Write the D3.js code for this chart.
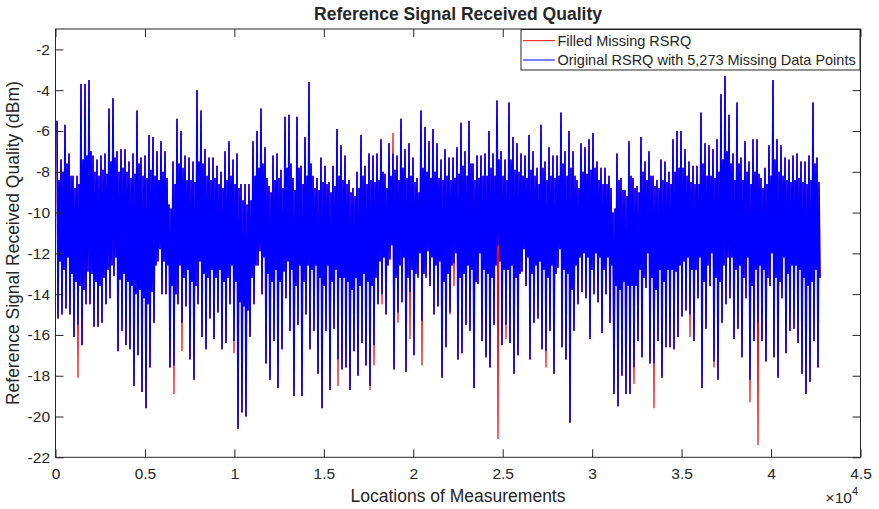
<!DOCTYPE html>
<html><head><meta charset="utf-8">
<script src="https://cdn.jsdelivr.net/npm/d3@7"></script>
<style>
body{margin:0;background:#fff}
svg{display:block}
text{font-family:"Liberation Sans",Arial,Helvetica,sans-serif;fill:#262626}
</style>
</head><body>
<svg id="c" width="879" height="509"></svg>
<script>
// ---- data ----
const xTicks = [0,5000,10000,15000,20000,25000,30000,35000,40000,45000];
const xTickLabels = ["0","0.5","1","1.5","2","2.5","3","3.5","4","4.5"];
const yTicks = [-22,-20,-18,-16,-14,-12,-10,-8,-6,-4,-2];
const titleText = "Reference Signal Received Quality";
const xLabel = "Locations of Measurements";
const yLabel = "Reference Signal Received Quality (dBm)";
const legendLabels = ["Filled Missing RSRQ","Original RSRQ with 5,273 Missing Data Points"];

// down-sampled measurement trace: each segment = local peak, local trough,
// then the upper and lower edge of the dense core of the trace
const sampleStart = 84, sampleStep = 55.9;   // location of first sample, spacing between samples
// filled RSRQ (dBm): local peaks per segment
const rsrqPeak = [
-5.5,-7.4,-5.7,-7.1,-8.2,-8.2,-3.7,-3.7,-3.5,-7.2,-7.4,-7.2,-7.1,-4.9,-4.4,-7.0,-6.9,-6.9,-7.5,-7.1,-5.0,-7.3,-7.2,-6.2,
-6.3,-7.0,-6.5,-7.0,-9.6,-7.5,-5.4,-6.0,-7.2,-7.3,-7.5,-4.0,-5.0,-6.9,-7.3,-7.3,-7.7,-8.0,-7.0,-6.5,-7.4,-7.1,-8.6,-8.6,
-8.6,-6.5,-6.0,-4.9,-6.8,-8.7,-7.2,-7.1,-7.9,-5.3,-5.2,-8.3,-5.3,-7.7,-6.3,-3.6,-8.2,-8.3,-7.3,-7.7,-8.5,-7.7,-5.9,-6.7,
-7.2,-8.4,-8.8,-8.0,-6.2,-7.7,-7.1,-7.2,-7.1,-6.4,-8.1,-6.6,-6.1,-7.2,-5.4,-6.9,-6.6,-7.3,-8.3,-5.0,-5.8,-6.5,-5.9,-6.6,
-7.4,-6.9,-7.3,-7.3,-6.8,-5.6,-7.0,-5.5,-7.6,-7.2,-7.2,-7.1,-6.0,-7.1,-4.5,-7.0,-7.4,-4.6,-6.3,-6.6,-7.1,-7.2,-6.2,-7.0,
-7.8,-5.7,-7.5,-6.8,-7.2,-7.2,-5.1,-7.0,-6.0,-7.0,-8.4,-6.6,-6.8,-6.4,-6.1,-7.5,-7.8,-7.8,-8.2,-10.0,-7.1,-8.3,-8.9,-6.5,
-8.3,-8.7,-6.3,-7.5,-7.0,-8.2,-8.4,-7.4,-7.5,-8.0,-6.4,-6.0,-6.0,-6.9,-7.5,-7.7,-7.7,-5.1,-6.6,-6.7,-6.9,-6.4,-4.2,-3.3,
-5.2,-7.1,-4.6,-7.3,-6.5,-7.5,-6.4,-6.4,-8.3,-7.8,-6.7,-3.5,-6.4,-6.7,-7.3,-7.4,-7.2,-7.1,-7.5,-7.5,-7.2,-4.6,-7.3
];
// filled RSRQ (dBm): local troughs per segment
const rsrqTrough = [
-15.2,-15.0,-14.7,-15.0,-16.1,-18.1,-16.5,-14.5,-14.5,-15.6,-15.6,-15.4,-14.5,-14.2,-13.1,-16.8,-15.8,-16.5,-16.7,-18.5,-17.0,-18.8,-19.6,-17.6,
-15.4,-12.4,-14.0,-14.0,-17.6,-18.9,-14.5,-16.8,-14.6,-17.2,-18.2,-14.5,-16.1,-16.7,-15.2,-16.2,-14.9,-16.7,-16.4,-14.5,-16.9,-20.6,-19.8,-20.0,
-16.1,-14.5,-12.6,-14.0,-17.4,-18.2,-16.3,-18.6,-16.7,-14.2,-15.8,-19.0,-15.5,-19.0,-15.0,-16.7,-15.8,-17.9,-19.6,-15.8,-18.7,-15.7,-18.5,-17.7,
-17.6,-18.7,-16.8,-18.0,-16.4,-17.5,-18.7,-17.5,-14.5,-14.5,-15.0,-12.3,-17.7,-15.4,-14.4,-17.8,-16.2,-17.0,-13.2,-17.5,-13.2,-13.6,-15.0,-14.6,
-18.1,-16.6,-15.0,-13.6,-17.2,-16.9,-15.5,-15.8,-18.6,-13.5,-16.3,-17.1,-17.6,-15.5,-21.1,-16.5,-16.2,-16.4,-17.9,-17.0,-12.9,-13.6,-17.2,-15.4,
-15.2,-16.7,-17.6,-15.8,-17.9,-12.7,-16.6,-17.2,-20.3,-15.8,-14.5,-13.9,-14.2,-16.2,-14.0,-14.4,-15.9,-14.0,-15.4,-18.9,-19.5,-18.0,-18.9,-18.9,
-18.4,-16.3,-17.1,-13.7,-17.4,-19.6,-16.3,-18.1,-16.6,-16.6,-16.7,-16.1,-15.1,-14.8,-16.1,-16.3,-14.2,-18.6,-15.7,-13.6,-17.6,-18.2,-15.4,-14.5,
-14.2,-16.2,-15.7,-17.1,-14.2,-19.3,-16.3,-21.4,-16.3,-17.3,-13.6,-17.1,-18.1,-14.2,-16.9,-15.8,-15.7,-16.4,-17.9,-18.9,-18.3,-16.3,-17.6
];
// upper edge of the dense core per segment (dBm)
const coreUpper = [
-8.4,-8.0,-7.6,-8.2,-8.8,-8.6,-7.4,-7.2,-7.0,-8.0,-8.2,-7.9,-8.1,-7.5,-7.3,-8.0,-7.8,-8.0,-8.3,-8.1,-7.6,-8.2,-8.3,-7.9,
-8.2,-8.4,-8.0,-8.3,-9.8,-8.6,-7.6,-7.8,-8.4,-8.4,-8.5,-7.5,-7.6,-8.2,-8.4,-8.3,-8.6,-8.8,-8.4,-8.2,-8.6,-8.8,-9.4,-9.6,
-9.4,-8.2,-7.8,-7.6,-8.3,-9.0,-8.4,-8.3,-8.8,-7.8,-7.6,-8.9,-7.8,-8.6,-8.2,-7.6,-8.8,-8.9,-8.5,-8.6,-9.0,-8.7,-8.2,-8.4,
-8.6,-9.0,-9.2,-8.8,-8.2,-8.6,-8.4,-8.5,-8.4,-8.0,-8.8,-8.2,-7.9,-8.4,-7.8,-8.3,-8.2,-8.5,-9.0,-7.8,-8.0,-8.3,-8.0,-8.3,
-8.4,-8.2,-8.4,-8.3,-8.1,-7.7,-8.2,-7.6,-8.4,-8.3,-8.2,-8.2,-7.8,-8.2,-7.4,-8.2,-8.4,-7.4,-7.9,-8.0,-8.2,-8.3,-7.9,-8.2,
-8.6,-7.8,-8.4,-8.2,-8.3,-8.2,-7.6,-8.2,-7.8,-8.2,-8.8,-8.0,-8.1,-7.9,-7.8,-8.4,-8.6,-8.6,-8.8,-9.8,-8.4,-8.9,-9.2,-8.2,
-8.8,-9.0,-8.0,-8.4,-8.2,-8.7,-8.8,-8.4,-8.5,-8.6,-8.0,-7.8,-7.8,-8.2,-8.5,-8.6,-8.6,-7.6,-8.2,-8.2,-8.3,-8.0,-7.4,-7.0,
-7.6,-8.4,-7.6,-8.4,-8.0,-8.6,-8.0,-8.1,-8.8,-8.6,-8.2,-7.4,-8.0,-8.2,-8.4,-8.5,-8.4,-8.3,-8.5,-8.6,-8.4,-7.6,-8.5
];
// lower edge of the dense core per segment (dBm)
const coreLower = [
-12.4,-12.8,-12.2,-13.0,-13.4,-13.6,-13.8,-12.9,-13.0,-13.4,-13.6,-13.2,-12.8,-12.6,-12.2,-13.3,-13.0,-13.4,-13.6,-14.0,-13.8,-14.2,-14.5,-13.9,
-12.6,-11.8,-12.4,-12.6,-13.6,-14.0,-12.6,-13.2,-12.8,-13.4,-13.6,-12.4,-13.0,-13.2,-12.8,-13.2,-12.8,-13.4,-13.2,-12.6,-13.4,-14.4,-14.6,-14.8,
-13.2,-12.6,-11.9,-12.2,-13.0,-13.4,-12.8,-13.4,-12.9,-12.4,-12.8,-13.6,-12.6,-13.4,-12.6,-12.8,-12.6,-13.2,-13.6,-12.6,-13.4,-12.8,-13.2,-13.2,
-13.4,-13.8,-13.2,-13.6,-13.0,-13.4,-13.6,-13.2,-12.4,-12.2,-12.6,-11.6,-13.2,-12.6,-12.2,-13.2,-12.8,-13.0,-12.0,-13.0,-11.9,-12.2,-12.6,-12.4,
-13.4,-13.0,-12.6,-12.0,-13.2,-13.0,-12.6,-12.8,-13.4,-12.0,-12.8,-13.0,-13.2,-12.6,-12.4,-12.8,-12.8,-12.6,-13.2,-13.0,-11.8,-12.2,-13.0,-12.6,
-12.4,-12.8,-13.2,-12.6,-13.0,-11.8,-12.8,-13.0,-13.8,-12.6,-12.2,-12.0,-12.2,-12.8,-12.0,-12.2,-12.8,-12.2,-12.6,-13.6,-13.8,-13.4,-13.6,-13.6,
-13.6,-12.8,-13.2,-12.0,-13.2,-13.8,-12.8,-13.4,-12.8,-12.8,-12.9,-12.6,-12.4,-12.2,-12.8,-12.8,-12.2,-13.4,-12.6,-12.0,-13.2,-13.4,-12.6,-12.2,
-12.2,-12.8,-12.6,-13.2,-12.2,-13.6,-12.8,-12.6,-12.8,-13.2,-12.0,-13.2,-13.4,-12.2,-13.0,-12.6,-12.6,-12.8,-13.2,-13.6,-13.4,-12.8,-13.2
];
// segments where the original series had missing points: original trough / peak there
const gapTroughIdx = [5,29,31,44,70,78,79,81,85,88,91,98,99,110,112,122,144,149,158,164,173,175];
const gapTroughOrig = [-15.5,-17.5,-15.4,-16.3,-17.2,-18.5,-16.5,-14.0,-14.9,-13.9,-15.3,-14.9,-12.5,-11.6,-15.5,-16.8,-17.6,-17.4,-15.0,-17.3,-18.2,-15.4];
const gapPeakIdx = [84];
const gapPeakOrig = [-7.1];

// ---- layout ----
const X0=55.5, X1=860.5, Y0=29, Y1=457.3;
const AX="#262626";
const svg = d3.select("#c");
const x = d3.scaleLinear().domain([0,45000]).range([X0,X1]);
const y = d3.scaleLinear().domain([-22,-1]).range([Y1,Y0]);

function buildSeries(peaks, troughs){
  const pts=[];
  peaks.forEach((p,k)=>{
    const vals = [p, troughs[k], coreUpper[k], coreLower[k]];
    vals.forEach((v,j)=>{ if(v!==undefined) pts.push([sampleStart+(4*k+j)*sampleStep, v]); });
  });
  return pts;
}
const filled = buildSeries(rsrqPeak, rsrqTrough);
const origPeak = rsrqPeak.slice(), origTrough = rsrqTrough.slice();
gapTroughIdx.forEach((k,i)=>origTrough[k]=gapTroughOrig[i]);
gapPeakIdx.forEach((k,i)=>origPeak[k]=gapPeakOrig[i]);
const original = buildSeries(origPeak, origTrough);

svg.append("defs").append("clipPath").attr("id","clip")
  .append("rect").attr("x",X0).attr("y",Y0).attr("width",X1-X0).attr("height",Y1-Y0);

const line = d3.line().x(d=>x(d[0])).y(d=>y(d[1]));
const plot = svg.append("g").attr("clip-path","url(#clip)");
plot.append("path").datum(filled).attr("d",line)
  .attr("fill","none").attr("stroke","#ff0000").attr("stroke-width",1.2).attr("stroke-linejoin","bevel");
plot.append("path").datum(original).attr("d",line)
  .attr("fill","none").attr("stroke","#0000ff").attr("stroke-width",1.6).attr("stroke-linejoin","bevel");

// axes
function styleAxis(g){
  g.select(".domain").remove();
  g.selectAll(".tick line").attr("stroke",AX).attr("stroke-width",1);
  g.selectAll(".tick text").attr("fill",AX).style("font-size","15.5px")
    .style("font-family",'"Liberation Sans",Arial,Helvetica,sans-serif');
}
svg.append("g").attr("transform",`translate(0,${Y1})`)
  .call(d3.axisBottom(x).tickValues(xTicks).tickFormat((d,i)=>xTickLabels[i]).tickSizeInner(-8).tickSizeOuter(0).tickPadding(10.8))
  .call(styleAxis);
svg.append("g").attr("transform",`translate(0,${Y0})`)
  .call(d3.axisTop(x).tickValues(xTicks).tickFormat("").tickSizeInner(-8).tickSizeOuter(0))
  .call(styleAxis);
svg.append("g").attr("transform",`translate(${X0},0)`)
  .call(d3.axisLeft(y).tickValues(yTicks).tickFormat(d3.format("d")).tickSizeInner(-8).tickSizeOuter(0).tickPadding(5.5))
  .call(styleAxis);
svg.append("g").attr("transform",`translate(${X1},0)`)
  .call(d3.axisRight(y).tickValues(yTicks).tickFormat("").tickSizeInner(-8).tickSizeOuter(0))
  .call(styleAxis);
svg.selectAll("g.tick text").text(function(){return this.textContent.replace("\u2212","-");});

svg.append("rect").attr("x",X0).attr("y",Y0).attr("width",X1-X0).attr("height",Y1-Y0)
  .attr("fill","none").attr("stroke",AX).attr("stroke-width",1);

// exponent
const ex = svg.append("text").attr("x",858).attr("y",503).attr("text-anchor","end").style("font-size","15.5px");
ex.append("tspan").text("\u00d710");
ex.append("tspan").attr("dy",-8).style("font-size","11px").text("4");

// labels
svg.append("text").attr("x",(X0+X1)/2).attr("y",20).attr("text-anchor","middle")
  .style("font-size","17.5px").style("font-weight","bold").attr("fill","#000").text(titleText);
svg.append("text").attr("x",(X0+X1)/2).attr("y",502).attr("text-anchor","middle")
  .style("font-size","17.5px").text(xLabel);
svg.append("text").attr("transform",`translate(18.5,${(Y0+Y1)/2}) rotate(-90)`).attr("text-anchor","middle")
  .style("font-size","17.5px").text(yLabel);

// legend
const lg = svg.append("g");
lg.append("rect").attr("x",521).attr("y",29.5).attr("width",339).attr("height",40.5)
  .attr("fill","#fff").attr("stroke",AX).attr("stroke-width",1);
const lcol = ["#ff0000","#0000ff"], ly=[40.7,60];
legendLabels.forEach((t,i)=>{
  lg.append("line").attr("x1",523).attr("x2",555).attr("y1",ly[i]).attr("y2",ly[i])
    .attr("stroke",lcol[i]).attr("stroke-width",1);
  lg.append("text").attr("x",557.5).attr("y",ly[i]+5.2).style("font-size","14.5px").text(t);
});
</script>
</body></html>
